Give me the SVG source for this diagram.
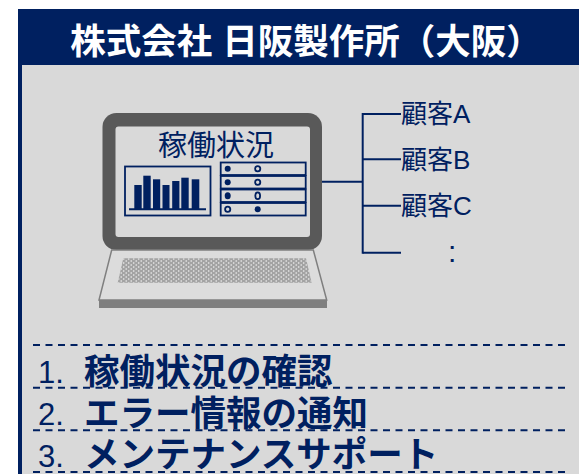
<svg xmlns="http://www.w3.org/2000/svg" width="579" height="474" viewBox="0 0 579 474">
  <defs>
    <style>
      .navy { fill: #002060; }
      .line { stroke: #002060; stroke-width: 2; fill: none; }
      .dash { stroke: #002060; stroke-width: 2; stroke-dasharray: 7 5.5; fill: none; }
      .jp { font-family: "Liberation Sans", "Noto Sans CJK JP", sans-serif; }
      .title { font-size: 35.5px; font-weight: bold; fill: #ffffff; }
      .screen-label { font-size: 29px; fill: #002060; }
      .customer { font-size: 26px; fill: #002060; }
      .num { font-size: 31px; fill: #002060; }
      .item { font-size: 35.5px; font-weight: bold; fill: #002060; }
      .row { fill: none; stroke: #002060; stroke-width: 1.8; }
    </style>
    <pattern id="keys" width="5" height="4" patternUnits="userSpaceOnUse">
      <circle cx="1.2" cy="1" r="0.8" fill="#ffffff" opacity="0.85"/>
      <circle cx="3.7" cy="3" r="0.8" fill="#ffffff" opacity="0.85"/>
    </pattern>
  </defs>

  <!-- frame: navy header + grey panel -->
  <g id="frame">
    <rect x="18" y="9" width="561" height="465" fill="#002060"/>
    <rect x="22" y="65" width="557" height="409" fill="#d9d9d9"/>
    <text class="jp title" x="306" y="53.5" text-anchor="middle">株式会社 日阪製作所（大阪）</text>
  </g>

  <!-- laptop -->
  <g id="laptop">
    <rect x="102.5" y="113" width="219.5" height="137" rx="14" fill="#595959"/>
    <rect x="115.5" y="126.5" width="194.5" height="110.5" rx="3" fill="#d9d9d9"/>
    <polygon points="111.7,250 313.3,250 326.7,300 99,300" fill="#dcdcdc" stroke="#7f7f7f" stroke-width="1.5"/>
    <rect x="99" y="300" width="228" height="8" fill="#7f7f7f"/>
    <polygon points="123.3,258.3 306,258.3 311.7,282.7 117.7,282.7" fill="#a3a3a3"/>
    <polygon points="123.3,258.3 306,258.3 311.7,282.7 117.7,282.7" fill="url(#keys)"/>
    <text class="jp screen-label" x="216" y="156" text-anchor="middle">稼働状況</text>

    <!-- bar chart -->
    <rect x="125" y="166.5" width="85.5" height="49" class="row" stroke-width="2"/>
    <g class="navy">
      <rect x="134.3" y="185" width="7.4" height="24.3"/>
      <rect x="143.3" y="175.7" width="7.4" height="33.6"/>
      <rect x="153" y="179.3" width="7.2" height="30"/>
      <rect x="162.5" y="185" width="7" height="24.3"/>
      <rect x="172.2" y="181" width="7.2" height="28.3"/>
      <rect x="181.3" y="177.7" width="7.4" height="31.6"/>
      <rect x="191.7" y="179.3" width="7.6" height="30"/>
    </g>
    <line x1="129" y1="209.3" x2="206" y2="209.3" class="line"/>

    <!-- status table -->
    <rect x="220.7" y="162.5" width="85" height="12.5" class="row"/>
    <rect x="220.7" y="176" width="85" height="12.5" class="row"/>
    <rect x="220.7" y="189.5" width="85" height="12.5" class="row"/>
    <rect x="220.7" y="203" width="85" height="12.5" class="row"/>
    <circle cx="227.7" cy="168.8" r="3" class="navy"/>
    <circle cx="257.7" cy="168.8" r="2.6" class="row"/>
    <circle cx="227.7" cy="182.3" r="3" class="navy"/>
    <circle cx="257.7" cy="182.3" r="2.6" class="row"/>
    <ellipse cx="227.7" cy="195.8" rx="3" ry="3.5" class="navy"/>
    <ellipse cx="257.7" cy="195.8" rx="2.4" ry="3.4" class="row"/>
    <circle cx="227.7" cy="209.3" r="2.6" class="row"/>
    <circle cx="257.7" cy="209.3" r="3" class="navy"/>
  </g>

  <!-- customer labels -->
  <g id="customer-a"><text class="jp customer" x="401" y="123">顧客A</text></g>
  <g id="customer-b"><text class="jp customer" x="401" y="168.5">顧客B</text></g>
  <g id="customer-c"><text class="jp customer" x="401" y="215">顧客C</text></g>
  <g id="customer-more"><text class="jp navy" x="448" y="262" font-size="30">:</text></g>

  <!-- connectors -->
  <g id="connectors">
    <line x1="322" y1="181.7" x2="362.7" y2="181.7" class="line"/>
    <line x1="362.7" y1="113" x2="362.7" y2="253.7" class="line"/>
    <line x1="362.7" y1="114" x2="401" y2="114" class="line"/>
    <line x1="362.7" y1="159.3" x2="401" y2="159.3" class="line"/>
    <line x1="362.7" y1="205.7" x2="401" y2="205.7" class="line"/>
    <line x1="362.7" y1="252.7" x2="401" y2="252.7" class="line"/>
  </g>

  <!-- feature list -->
  <g id="feature-list">
    <line x1="33" y1="345" x2="570" y2="345" class="dash"/>
    <line x1="33" y1="387.7" x2="570" y2="387.7" class="dash"/>
    <line x1="33" y1="430.3" x2="570" y2="430.3" class="dash"/>
    <line x1="33" y1="472" x2="570" y2="472" class="dash"/>
    <g id="item-1">
      <text class="jp num" x="38" y="383.3">1.</text>
      <text class="jp item" x="84" y="384">稼働状況の確認</text>
    </g>
    <g id="item-2">
      <text class="jp num" x="38" y="425">2.</text>
      <text class="jp item" x="84" y="425.7">エラー情報の通知</text>
    </g>
    <g id="item-3">
      <text class="jp num" x="38" y="466.7">3.</text>
      <text class="jp item" x="84" y="467.4">メンテナンスサポート</text>
    </g>
  </g>
</svg>
